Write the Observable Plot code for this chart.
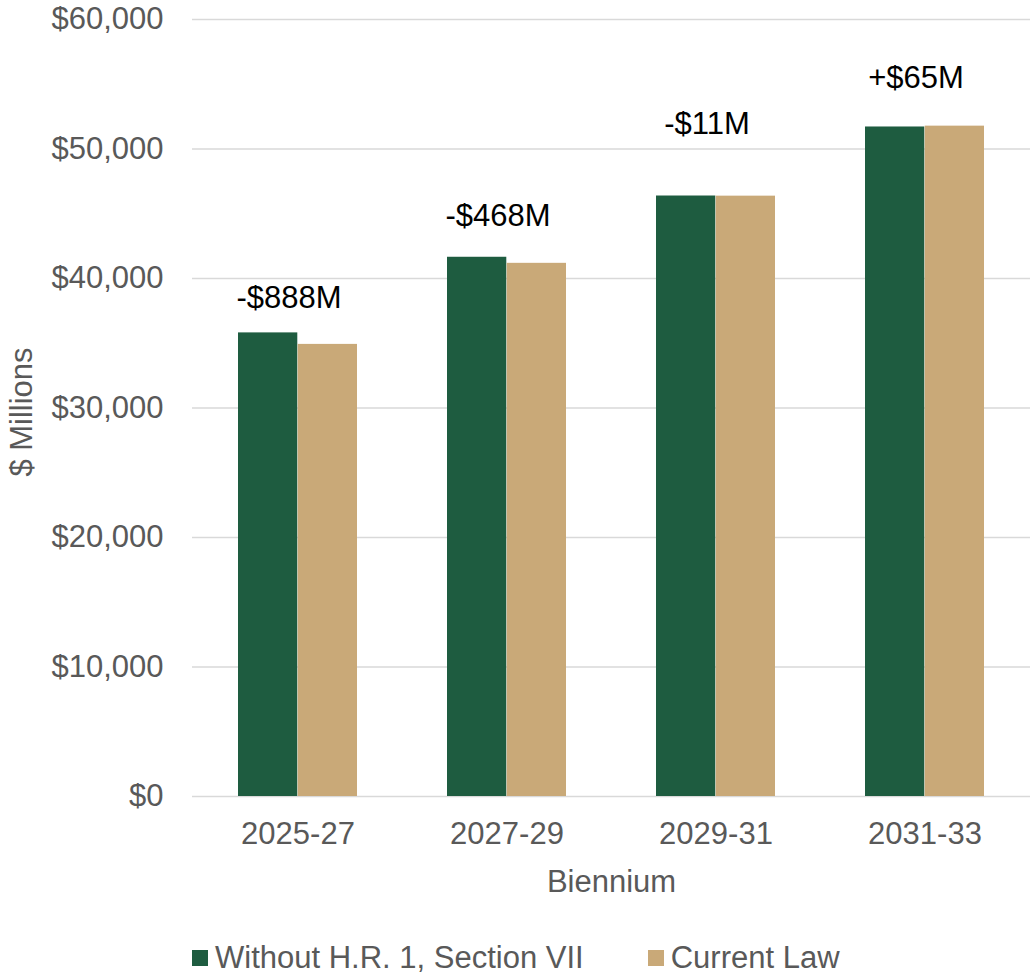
<!DOCTYPE html>
<html>
<head>
<meta charset="utf-8">
<script src="https://cdn.jsdelivr.net/npm/d3@7"></script>
<script src="https://cdn.jsdelivr.net/npm/@observablehq/plot@0.6"></script>
<style>
  html, body { margin: 0; padding: 0; background: #fff; }
  #wrap { position: relative; width: 1031px; height: 978px; font-family: "Liberation Sans", Arial, Helvetica, sans-serif; }
  #legend { position: absolute; left: 192px; top: 940px; height: 36px; display: flex; align-items: center; font-size: 31px; color: #595959; white-space: nowrap; }
  .item { display: flex; align-items: center; }
  .sw { width: 16px; height: 16px; margin-right: 7px; }
</style>
</head>
<body>
<div id="wrap"><div id="chart"></div><div id="legend"></div></div>
<script>
// ---- data ----
const biennia = ["2025-27", "2027-29", "2029-31", "2031-33"];
const seriesNames = ["Without H.R. 1, Section VII", "Current Law"];
const withoutHR1 = [35800, 41640, 46370, 51700];
const currentLaw = [34912, 41172, 46359, 51765];
const diffLabels = ["-$888M", "-$468M", "-$11M", "+$65M"];
const labelAnchors = [38450, 44790, 51890, 55440];
const yTicks = [0, 10000, 20000, 30000, 40000, 50000, 60000];
const colors = ["#1e5c40", "#c9a978"];
const yTitle = "$ Millions";
const xTitle = "Biennium";

// ---- layout ----
const W = 1031, H = 912;
const mL = 192, mR = 1, mT = 19, mB = 116;
const fs = 31;

const xOpts = {type: "band", domain: biennia, paddingInner: 0.43, paddingOuter: 0.215};
const xs = Plot.scale({x: {...xOpts, range: [mL, W - mR]}});
const half = xs.bandwidth / 2;

const rows = biennia.map((b, i) => ({
  biennium: b,
  without: withoutHR1[i],
  current: currentLaw[i],
  label: diffLabels[i],
  anchor: labelAnchors[i]
}));

const chart = Plot.plot({
  width: W,
  height: H,
  marginLeft: mL,
  marginRight: mR,
  marginTop: mT,
  marginBottom: mB,
  style: {fontFamily: "'Liberation Sans', Arial, Helvetica, sans-serif", fontSize: fs + "px", color: "#595959", background: "#fff"},
  x: {...xOpts, tickSize: 0, tickPadding: 25, label: null},
  y: {domain: [0, 60000], ticks: yTicks, tickSize: 0, tickPadding: 29, tickFormat: d => "$" + d3.format(",")(d), label: null},
  marks: [
    Plot.ruleY(yTicks, {stroke: "#d9d9d9", strokeWidth: 1.5}),
    Plot.barY(rows, {x: "biennium", y: "without", fill: colors[0], insetRight: half}),
    Plot.barY(rows, {x: "biennium", y: "current", fill: colors[1], insetLeft: half}),
    Plot.text(rows, {x: "biennium", y: "anchor", text: "label", dx: -9, fill: "#000", fontSize: fs}),
    Plot.text([yTitle], {text: d => d, frameAnchor: "left", textAnchor: "middle", lineAnchor: "middle", rotate: -90, dx: -170, dy: 4, fill: "#595959", fontSize: fs}),
    Plot.text([xTitle], {text: d => d, frameAnchor: "bottom", textAnchor: "middle", lineAnchor: "middle", dy: 86, fill: "#595959", fontSize: fs})
  ]
});
document.getElementById("chart").appendChild(chart);

// ---- legend ----
const legend = document.getElementById("legend");
seriesNames.forEach((name, i) => {
  const item = document.createElement("div");
  item.className = "item";
  if (i > 0) item.style.marginLeft = "64px";
  const sw = document.createElement("div");
  sw.className = "sw";
  sw.style.background = colors[i];
  const t = document.createElement("span");
  t.textContent = name;
  item.appendChild(sw);
  item.appendChild(t);
  legend.appendChild(item);
});
</script>
</body>
</html>
